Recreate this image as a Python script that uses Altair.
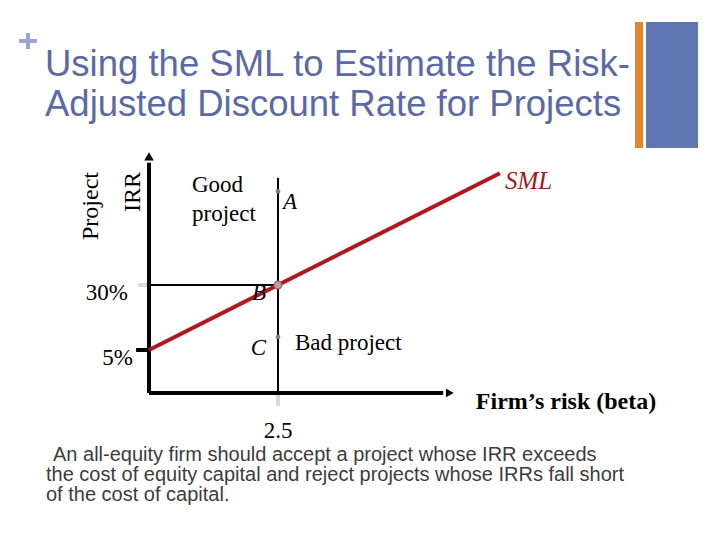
import altair as alt
import pandas as pd

# ---------------- data ----------------
sml_beta = [0.0, 2.5, 6.8]
sml_return = [5.0, 30.0, 73.0]

point_names = ["A", "B", "C"]
point_beta = [2.5, 2.5, 2.5]
point_return = [66.0, 30.0, 10.0]

tick_returns = [30.0, 5.0]
tick_return_labels = ["30%", "5%"]
tick_beta = [2.5]
tick_beta_labels = ["2.5"]

axis_floor = -11.5      # where the beta axis sits (in return units)
axis_top = 77.0         # top of the IRR axis shaft
arrow_top = 79.5        # IRR axis arrow head
beta_axis_end = 5.7     # end of beta axis shaft
beta_arrow = 5.83       # beta axis arrow head
vline_top = 71.2        # top of the vertical line at beta = 2.5

title_lines = ["Using the SML to Estimate the Risk-",
               "Adjusted Discount Rate for Projects"]
note_lines = ["An all-equity firm should accept a project whose IRR exceeds",
              "the cost of equity capital and reject projects whose IRRs fall short",
              "of the cost of capital."]

# ---------------- scales ----------------
W, H = 704, 524
xs = alt.Scale(domain=[-2.7326, 10.9109], nice=False, zero=False)
ys = alt.Scale(domain=[-65.0, 136.54], nice=False, zero=False)


def X(f="x"):
    return alt.X(f, type="quantitative", scale=xs, axis=None)


def Y(f="y"):
    return alt.Y(f, type="quantitative", scale=ys, axis=None)


SERIF = "Liberation Serif"
SANS = "Liberation Sans"

# ---------------- segments ----------------
thick = pd.DataFrame({
    "x": [0.0, 0.0, -0.25],
    "y": [axis_floor, axis_floor, sml_return[0]],
    "x2": [0.0, beta_axis_end, 0.0],
    "y2": [axis_top, axis_floor, sml_return[0]],
})
thin = pd.DataFrame({
    "x": [point_beta[1], 0.0],
    "y": [axis_floor, point_return[1]],
    "x2": [point_beta[1], point_beta[1]],
    "y2": [vline_top, point_return[1]],
})
grey = pd.DataFrame({
    "x": [-0.21, tick_beta[0]],
    "y": [tick_returns[0], axis_floor],
    "x2": [0.0, tick_beta[0]],
    "y2": [tick_returns[0], axis_floor - 5.0],
})


def seg(df, width, color):
    return alt.Chart(df).mark_rule(strokeWidth=width, color=color, strokeCap="butt").encode(
        x=X("x"), y=Y("y"), x2="x2", y2="y2")


thick_l = seg(thick, 4, "#000000")
thin_l = seg(thin, 2, "#000000")
grey_l = seg(grey, 4, "#d9d9d9")

arrow_up = alt.Chart(pd.DataFrame({"x": [0.0], "y": [arrow_top]})).mark_point(
    shape="triangle-up", filled=True, color="#000000", size=90, opacity=1).encode(x=X(), y=Y())
arrow_right = alt.Chart(pd.DataFrame({"x": [beta_arrow], "y": [axis_floor]})).mark_point(
    shape="triangle-right", filled=True, color="#000000", size=80, opacity=1).encode(x=X(), y=Y())

sml_df = pd.DataFrame({"x": sml_beta, "y": sml_return})
sml = alt.Chart(sml_df).mark_line(color="#b0181c", strokeWidth=4, strokeCap="butt").encode(
    x=X(), y=Y())

pts_df = pd.DataFrame({"name": point_names, "x": point_beta, "y": point_return})
rowA = pts_df.iloc[[0]]
rowB = pts_df.iloc[[1]]
rowC = pts_df.iloc[[2]]
pts_small = alt.Chart(pd.concat([rowA, rowC])).mark_point(
    filled=True, color="#9b7076", size=22, opacity=1).encode(x=X(), y=Y())
pt_b = alt.Chart(rowB).mark_point(filled=True, fill="#c4a0a6", stroke="#9b6a72", strokeWidth=1.5,
                                  size=55, opacity=1).encode(x=X(), y=Y())


def lab(df, text, **kw):
    base = dict(font=SERIF, fontSize=23, color="#000000")
    base.update(kw)
    return alt.Chart(df).mark_text(**base).encode(x=X(), y=Y(), text=alt.value(text))


labA = lab(rowA, "A", fontStyle="italic", align="left", dx=5, dy=11)
labB = lab(rowB, "B", fontStyle="italic", align="right", dx=-12, dy=8)
labC = lab(rowC, "C", fontStyle="italic", align="right", dx=-12, dy=11)
labBad = lab(rowC, "Bad project", align="left", dx=17, dy=6)

ticks_df = pd.DataFrame({"x": [0.0, 0.0], "y": tick_returns, "t": tick_return_labels})
tick30 = alt.Chart(ticks_df.iloc[[0]]).mark_text(font=SERIF, fontSize=23, align="right", dx=-21,
                                                 dy=8, color="#000000").encode(x=X(), y=Y(), text="t:N")
tick5 = alt.Chart(ticks_df.iloc[[1]]).mark_text(font=SERIF, fontSize=23, align="right", dx=-16,
                                                dy=8, color="#000000").encode(x=X(), y=Y(), text="t:N")
btick_df = pd.DataFrame({"x": tick_beta, "y": [axis_floor], "t": tick_beta_labels})
btick_text = alt.Chart(btick_df).mark_text(font=SERIF, fontSize=23, align="center", dy=38,
                                           color="#000000").encode(x=X(), y=Y(), text="t:N")

sml_lab = lab(sml_df.iloc[[2]], "SML", fontStyle="italic", fontSize=25, color="#a3181c",
              align="left", dx=5, dy=8)
firm_lab = lab(pd.DataFrame({"x": [beta_arrow], "y": [axis_floor]}), "Firm\u2019s risk (beta)",
               fontWeight="bold", fontSize=24, align="left", dx=26, dy=9)

# ---------------- free text & decoration ----------------
one = pd.DataFrame({"k": [0]})


def free_text(text, x, y, **kw):
    return alt.Chart(one).mark_text(**kw).encode(
        x=alt.value(x), y=alt.value(y), text=alt.value(text))


good = free_text("Good", 184, 184, font=SERIF, fontSize=23, align="left", baseline="alphabetic")
proj = free_text("project", 184, 213, font=SERIF, fontSize=23, align="left", baseline="alphabetic")
proj_ax = free_text("Project", 90, 164, font=SERIF, fontSize=24, angle=270, align="right",
                    baseline="alphabetic")
irr_ax = free_text("IRR", 132, 164, font=SERIF, fontSize=24, angle=270, align="right",
                   baseline="alphabetic")

title = [free_text(t, 37, 68 + 40 * i, font=SANS, fontSize=36.5, color="#5b6aa6", align="left",
                   baseline="alphabetic") for i, t in enumerate(title_lines)]
note_x = [45, 38, 38]
note = [free_text(t, note_x[i], 453 + 20 * i, font=SANS, fontSize=20, color="#3c3c3c",
                  align="left", baseline="alphabetic") for i, t in enumerate(note_lines)]


def rect(x, x2, y, y2, color):
    return alt.Chart(one).mark_rect(color=color).encode(
        x=alt.value(x), x2=alt.value(x2), y=alt.value(y), y2=alt.value(y2))


orange = rect(627, 635, 14, 140, "#e0862a")
blue = rect(638, 690, 14, 140, "#6076b3")
plus_h = rect(11, 29, 31, 35, "#9ba4d4")
plus_v = rect(18, 22, 25, 41, "#9ba4d4")

chart = alt.layer(
    orange, blue, plus_h, plus_v, *title,
    grey_l, thin_l, thick_l, arrow_up, arrow_right, sml, pts_small, pt_b,
    labA, labB, labC, labBad, tick30, tick5, btick_text, sml_lab, firm_lab,
    good, proj, proj_ax, irr_ax, *note,
).properties(width=W, height=H, autosize=alt.AutoSizeParams(type="none"), padding=0,
             background="#ffffff"
).configure_view(stroke=None, strokeWidth=0)

chart.save("out.html", embed_options={"renderer": "svg", "actions": False})
